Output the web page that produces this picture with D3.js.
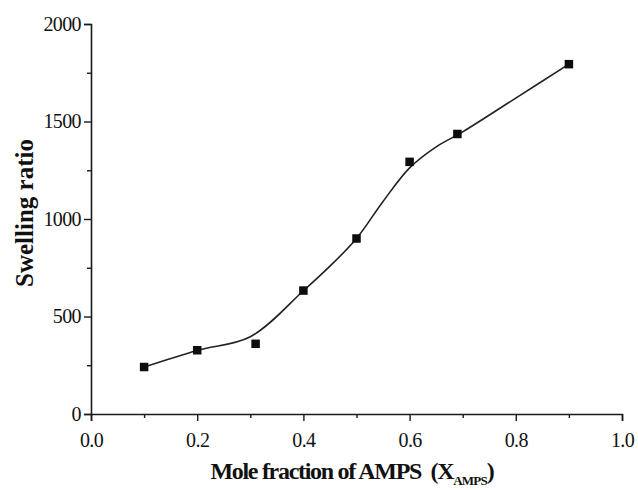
<!DOCTYPE html>
<html>
<head>
<meta charset="utf-8">
<script src="https://cdn.jsdelivr.net/npm/d3@7"></script>
<style>
  html, body { margin: 0; padding: 0; background: #fff; }
  svg { display: block; }
  text { font-family: "Liberation Serif", "Times New Roman", serif; fill: #111; }
</style>
</head>
<body>
<script>
// Measured swelling ratios
const moleFraction = [0.1, 0.2, 0.31, 0.4, 0.5, 0.6, 0.69, 0.9];
const swellingRatio = [241, 327, 360, 633, 900, 1293, 1436, 1794];

// Smoothed trend line knots
const fitX = [0.1, 0.2, 0.3, 0.4, 0.45, 0.5, 0.55, 0.6, 0.65, 0.7, 0.8, 0.9];
const fitY = [241, 326, 396, 632, 758, 900, 1090, 1262, 1370, 1447, 1620, 1794];

const xMajorTicks = [0.0, 0.2, 0.4, 0.6, 0.8, 1.0];
const xMinorTicks = [0.1, 0.3, 0.5, 0.7, 0.9];
const yMajorTicks = [0, 500, 1000, 1500, 2000];
const yMinorTicks = [250, 750, 1250, 1750];

const W = 638, H = 490;
const margin = { left: 91, right: 16, top: 24, bottom: 76 };

const svg = d3.select("body").append("svg")
  .attr("width", W).attr("height", H);

const x = d3.scaleLinear().domain([0, 1]).range([margin.left, W - margin.right]);
const y = d3.scaleLinear().domain([0, 2000]).range([H - margin.bottom, margin.top]);

const ink = "#1a1a1a";

// X axis
const xAxis = svg.append("g").attr("transform", `translate(0,${y(0)})`);
xAxis.call(d3.axisBottom(x).tickValues(xMajorTicks).tickSize(7).tickPadding(12)
  .tickFormat(d3.format(".1f")));
xAxis.append("g").call(d3.axisBottom(x).tickValues(xMinorTicks).tickSize(4).tickFormat(""))
  .select(".domain").remove();

// Y axis
const yAxis = svg.append("g").attr("transform", `translate(${x(0)},0)`);
yAxis.call(d3.axisLeft(y).tickValues(yMajorTicks).tickSize(7).tickPadding(3)
  .tickFormat(d3.format("d")));
yAxis.append("g").call(d3.axisLeft(y).tickValues(yMinorTicks).tickSize(4).tickFormat(""))
  .select(".domain").remove();

svg.selectAll(".domain").attr("stroke", ink).attr("stroke-width", 1.6);
svg.selectAll(".tick line").attr("stroke", ink).attr("stroke-width", 1.4);
svg.selectAll(".tick text")
  .attr("font-family", "'Liberation Serif', serif")
  .attr("font-size", 20)
  .attr("letter-spacing", -0.6)
  .attr("fill", "#111");

// Trend line
const fitPts = fitX.map((v, i) => [v, fitY[i]]);
svg.append("path")
  .datum(fitPts)
  .attr("fill", "none")
  .attr("stroke", "#222")
  .attr("stroke-width", 1.6)
  .attr("d", d3.line().x(d => x(d[0])).y(d => y(d[1])).curve(d3.curveCatmullRom.alpha(0.5)));

// Square markers
const s = 8.5;
svg.append("g").selectAll("rect")
  .data(moleFraction.map((v, i) => [v, swellingRatio[i]]))
  .join("rect")
  .attr("x", d => x(d[0]) - s / 2)
  .attr("y", d => y(d[1]) - s / 2)
  .attr("width", s).attr("height", s)
  .attr("fill", "#0d0d0d");

// Axis titles
svg.append("text")
  .attr("transform", "translate(33,213) rotate(-90)")
  .attr("text-anchor", "middle")
  .attr("font-size", 25)
  .attr("font-weight", "bold")
  .text("Swelling ratio");

const xt = svg.append("text")
  .attr("x", 352).attr("y", 479)
  .attr("text-anchor", "middle")
  .attr("font-size", 24)
  .attr("font-weight", "bold")
  .attr("letter-spacing", -1.3)
  .style("white-space", "pre");
xt.append("tspan").text("Mole fraction of AMPS  (X");
xt.append("tspan").attr("font-size", 13).attr("letter-spacing", -0.8).attr("dy", 6).text("AMPS");
xt.append("tspan").attr("dy", -6).text(")");
</script>
</body>
</html>
